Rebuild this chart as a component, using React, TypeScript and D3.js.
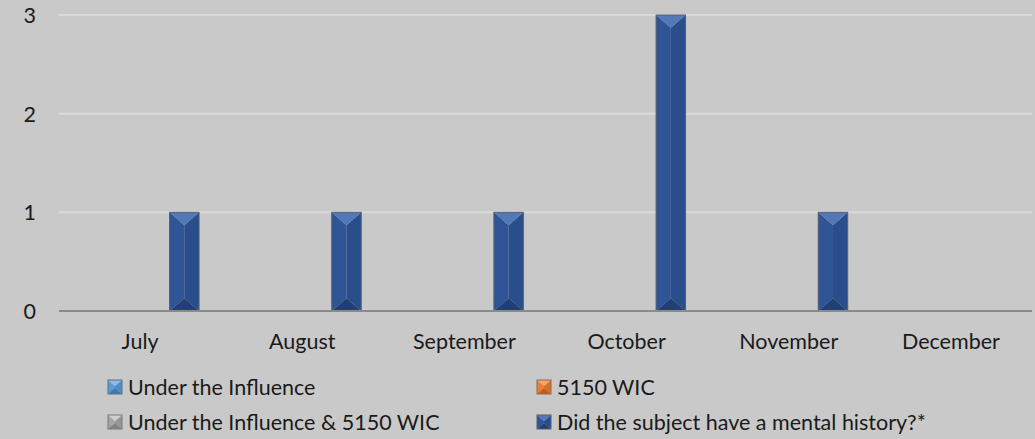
import React from "react";
import * as d3 from "d3";

const categories = ["July", "August", "September", "October", "November", "December"];
const seriesNames = [
  "Under the Influence",
  "5150 WIC",
  "Under the Influence & 5150 WIC",
  "Did the subject have a mental history?*",
];
const underInfluence = [0, 0, 0, 0, 0, 0];
const wic5150 = [0, 0, 0, 0, 0, 0];
const bothValues = [0, 0, 0, 0, 0, 0];
const mentalHistory = [1, 1, 1, 3, 1, 0];
const yTicks = [0, 1, 2, 3];

const seriesValues = [underInfluence, wic5150, bothValues, mentalHistory];
const palettes = [
  { top: "#8fb8e6", left: "#5b9bd5", right: "#4f8bc4", bottom: "#3f78ae", stroke: "#5f7288" },
  { top: "#f5a56a", left: "#ed7d31", right: "#d96e26", bottom: "#bf5e1d", stroke: "#8a6a55" },
  { top: "#cfcfcf", left: "#a5a5a5", right: "#969696", bottom: "#828282", stroke: "#7a7a7a" },
  { top: "#5378b8", left: "#2f5597", right: "#2a4e8c", bottom: "#213f73", stroke: "#56606e" },
];

const W = 1035;
const H = 439;
const FONT = "Lato, 'Open Sans', sans-serif";
const FS = 21.5;

function Bevel({ x, y, w, h, p }: { x: number; y: number; w: number; h: number; p: any }) {
  if (h <= 0) return null;
  const d = Math.min(w / 2.3, h / 2);
  const cx = x + w / 2;
  const x1 = x + w;
  const y1 = y + h;
  return (
    <g>
      <polygon points={`${x},${y} ${cx},${y + d} ${cx},${y1 - d} ${x},${y1}`} fill={p.left} />
      <polygon points={`${x1},${y} ${cx},${y + d} ${cx},${y1 - d} ${x1},${y1}`} fill={p.right} />
      <polygon points={`${x},${y} ${x1},${y} ${cx},${y + d}`} fill={p.top} />
      <polygon points={`${x},${y1} ${x1},${y1} ${cx},${y1 - d}`} fill={p.bottom} />
      <rect x={x} y={y} width={w} height={h} fill="none" stroke={p.stroke} strokeWidth={1} />
    </g>
  );
}

export default function App() {
  const plotLeft = 59;
  const plotRight = 1032;
  const x0 = d3.scaleBand<string>().domain(categories).range([plotLeft, plotRight]).padding(0);
  const bw = x0.bandwidth() / 5.5;
  const y = d3.scaleLinear().domain([0, 3]).range([311, 15]);

  const legendItems = [
    { name: seriesNames[0], x: 108, y: 395, p: palettes[0] },
    { name: seriesNames[1], x: 537, y: 395, p: palettes[1] },
    { name: seriesNames[2], x: 108, y: 430, p: palettes[2] },
    { name: seriesNames[3], x: 537, y: 430, p: palettes[3] },
  ];

  return (
    <svg
      width={W}
      height={H}
      style={{ position: "absolute", left: 0, top: 0, display: "block" }}
      fontFamily={FONT}
    >
      <rect x={0} y={0} width={W} height={H} fill="#c9c9c9" />
      {yTicks.slice(1).map((t) => (
        <line key={t} x1={plotLeft} x2={plotRight} y1={y(t)} y2={y(t)} stroke="#dadada" strokeWidth={2} />
      ))}
      {yTicks.map((t) => (
        <text key={t} x={36} y={y(t)} textAnchor="end" dominantBaseline="central" fontSize={FS} fill="#1a1a1a">
          {t}
        </text>
      ))}
      {categories.map((c, i) => {
        const cx = (x0(c) as number) + x0.bandwidth() / 2;
        const x1 = d3
          .scaleBand<number>()
          .domain([0, 1, 2, 3])
          .range([cx - 2 * bw, cx + 2 * bw])
          .padding(0);
        return (
          <g key={c}>
            {seriesValues.map((vals, s) => (
              <Bevel
                key={s}
                x={x1(s) as number}
                y={y(vals[i])}
                w={x1.bandwidth()}
                h={y(0) - y(vals[i])}
                p={palettes[s]}
              />
            ))}
            <text x={cx} y={349} textAnchor="middle" fontSize={FS} fill="#1a1a1a">
              {c}
            </text>
          </g>
        );
      })}
      <line x1={plotLeft} x2={plotRight} y1={y(0)} y2={y(0)} stroke="#8a8a8a" strokeWidth={2} />
      {legendItems.map((it) => (
        <g key={it.name}>
          <Bevel x={it.x} y={it.y - 15} w={14} h={14} p={it.p} />
          <text x={it.x + 20} y={it.y} fontSize={FS} fill="#1a1a1a">
            {it.name}
          </text>
        </g>
      ))}
    </svg>
  );
}
